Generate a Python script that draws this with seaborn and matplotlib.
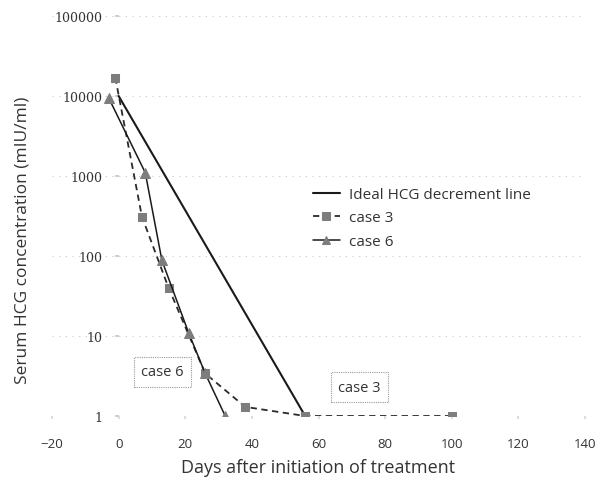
import matplotlib
matplotlib.use("Agg")
import matplotlib.pyplot as plt
import seaborn as sns
import pandas as pd
import numpy as np
from matplotlib.ticker import FixedLocator, FixedFormatter, NullLocator

# ---- data ----
ideal_days = [0, 56]
ideal_hcg = [10000, 1]

case3_days = [-1, 7, 15, 26, 38, 56, 100]
case3_hcg = [17000, 310, 40, 3.4, 1.3, 1, 1]

case6_days = [-3, 8, 13, 21, 26, 32]
case6_hcg = [9500, 1100, 88, 11, 3.4, 1]

series_names = ["Ideal HCG decrement line", "case 3", "case 6"]

x_ticks = [-20, 0, 20, 40, 60, 80, 100, 120, 140]
y_ticks = [1, 10, 100, 1000, 10000, 100000]
y_tick_labels = ["1", "10", "100", "1000", "10000", "100000"]

x_label = "Days after initiation of treatment"
y_label = "Serum HCG concentration (mIU/ml)"

annotations = [("case 6", 13.1, 10 ** 0.55), ("case 3", 72.2, 10 ** 0.36)]

# ---- plot ----
sns.set_theme(style="white")
plt.rcParams["font.family"] = ["Open Sans", "DejaVu Sans"]

W, H = 597, 481
fig = plt.figure(figsize=(W / 100, H / 100), dpi=100)
ax = fig.add_axes([52 / W, (H - 417) / H, (585 - 52) / W, 400 / H])

df_ideal = pd.DataFrame({"day": ideal_days, "hcg": ideal_hcg})
df3 = pd.DataFrame({"day": case3_days, "hcg": case3_hcg})
df6 = pd.DataFrame({"day": case6_days, "hcg": case6_hcg})

for yt in y_ticks:
    ax.axhline(yt, color="#c8c8c8", lw=0.8, ls=(0, (1, 5)), zorder=0)

sns.lineplot(data=df_ideal, x="day", y="hcg", ax=ax, color="#1a1a1a", lw=1.5,
             sort=False, estimator=None, label=series_names[0])
sns.lineplot(data=df3, x="day", y="hcg", ax=ax, color="#2a2a2a", lw=1.3,
             linestyle=(0, (3.5, 2.5)), marker="s", markersize=6,
             markerfacecolor="#7d7d7d", markeredgecolor="#7d7d7d",
             sort=False, estimator=None, label=series_names[1])
sns.lineplot(data=df6, x="day", y="hcg", ax=ax, color="#1a1a1a", lw=1.1,
             marker="^", markersize=7,
             markerfacecolor="#7d7d7d", markeredgecolor="#7d7d7d",
             sort=False, estimator=None, label=series_names[2])

ax.set_yscale("log")
ax.set_xlim(-20, 140)
ax.set_ylim(1, 100000)
ax.xaxis.set_major_locator(FixedLocator(x_ticks))
ax.yaxis.set_major_locator(FixedLocator(y_ticks))
ax.yaxis.set_major_formatter(FixedFormatter(y_tick_labels))
ax.yaxis.set_minor_locator(NullLocator())

for s in ["top", "right", "bottom"]:
    ax.spines[s].set_visible(False)
ax.spines["left"].set_position(("data", 0))
ax.spines["left"].set_visible(False)

ax.tick_params(axis="y", which="major", left=True, length=3, color="#c8c8c8",
               labelsize=9, pad=9, labelcolor="#333333")
ax.tick_params(axis="x", which="major", bottom=True, length=2, color="#d8d8d8",
               labelsize=9.5, pad=13, labelcolor="#333333")
for lab in ax.get_yticklabels():
    lab.set_family(["DejaVu Serif"])

ax.set_xlabel(x_label, fontsize=13, color="#333333", labelpad=6)
ax.set_ylabel(y_label, fontsize=12.5, color="#333333")
ax.yaxis.set_label_coords((31 - 52) / (585 - 52), (417 - 240) / 400)

for txt, xd, yd in annotations:
    ax.text(xd, yd, txt, fontsize=10.5, color="#333333", ha="center", va="center",
            bbox=dict(boxstyle="square,pad=0.5", fc="white", ec="#9a9a9a",
                      lw=0.8, ls=(0, (1, 1))))

leg = ax.legend(loc="center left", bbox_to_anchor=(305 / W, 1 - 219 / H),
                bbox_transform=fig.transFigure, frameon=False, fontsize=11,
                handlelength=1.8, handletextpad=0.6, labelspacing=0.55,
                borderpad=0, markerscale=0.85)
for t in leg.get_texts():
    t.set_color("#333333")

fig.savefig("out.png", dpi=100)
